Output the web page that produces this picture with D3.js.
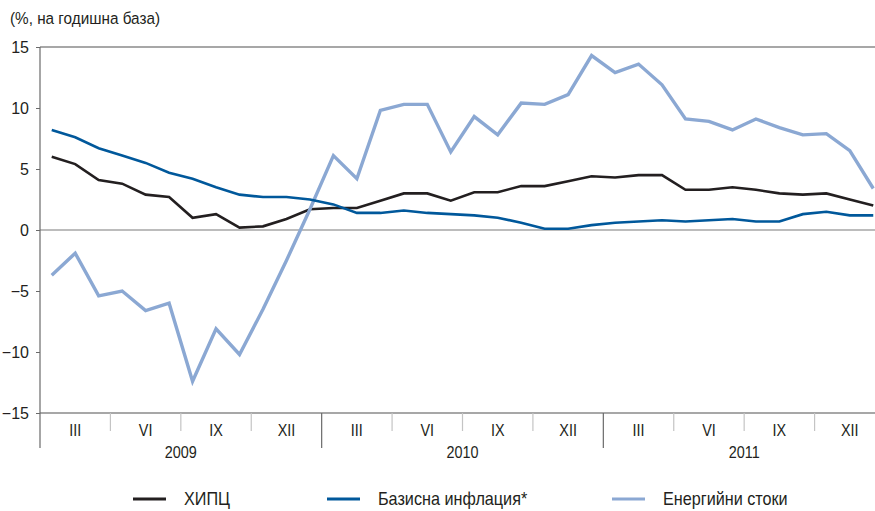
<!DOCTYPE html>
<html>
<head>
<meta charset="utf-8">
<script src="https://cdn.jsdelivr.net/npm/d3@7"></script>
<style>
  body { margin: 0; background: #fff; }
  svg text { font-family: "Liberation Sans Narrow", "Arial Narrow", "Liberation Sans", sans-serif; fill: #231f20; }
</style>
</head>
<body>
<div id="chart"></div>
<script>
// monthly values, Jan 2009 - Dec 2011
const years = ['2009', '2010', '2011']
const quarterLabels = ['III', 'VI', 'IX', 'XII']
const yTicks = [-15, -10, -5, 0, 5, 10, 15]

const hicp = [6.0, 5.4, 4.1, 3.8, 2.9, 2.7, 1.0, 1.3, 0.2, 0.3, 0.9, 1.7,
              1.8, 1.8, 2.4, 3.0, 3.0, 2.4, 3.1, 3.1, 3.6, 3.6, 4.0, 4.4,
              4.3, 4.5, 4.5, 3.3, 3.3, 3.5, 3.3, 3.0, 2.9, 3.0, 2.5, 2.0]
const core = [8.2, 7.6, 6.7, 6.1, 5.5, 4.7, 4.2, 3.5, 2.9, 2.7, 2.7, 2.5,
              2.1, 1.4, 1.4, 1.6, 1.4, 1.3, 1.2, 1.0, 0.6, 0.1, 0.1, 0.4,
              0.6, 0.7, 0.8, 0.7, 0.8, 0.9, 0.7, 0.7, 1.3, 1.5, 1.2, 1.2]
const energy = [-3.7, -1.9, -5.4, -5.0, -6.6, -6.0, -12.4, -8.1, -10.2, -6.5, -2.5, 1.7,
                6.1, 4.2, 9.8, 10.3, 10.3, 6.4, 9.3, 7.8, 10.4, 10.3, 11.1, 14.3,
                12.9, 13.6, 11.9, 9.1, 8.9, 8.2, 9.1, 8.4, 7.8, 7.9, 6.5, 3.4]

const seriesNames = ['ХИПЦ', 'Базисна инфлация*', 'Енергийни стоки']
const seriesColors = ['#231f20', '#00589b', '#8ba8d3']
const seriesWidths = [2.6, 2.6, 3.4]

const width = 875
const height = 511
const padding = { top: 47, bottom: 98, left: 40, right: -10 }

const svg = d3.select('#chart').append('svg')
  .attr('width', width)
  .attr('height', height)

const months = d3.range(36)
const x = d3.scaleBand().domain(months).range([padding.left, width - padding.right])
const y = d3.scaleLinear().domain([-15, 15]).range([height - padding.bottom, padding.top])
const bw = x.bandwidth()
const xc = i => x(i) + bw / 2

// narrow look for the text (no condensed font installed)
const squeeze = 0.9

// frame lines
svg.append('line')
  .attr('x1', padding.left).attr('x2', width)
  .attr('y1', y(15)).attr('y2', y(15))
  .attr('stroke', '#8a8a8a').attr('stroke-width', 1.5)
svg.append('line')
  .attr('x1', padding.left).attr('x2', width)
  .attr('y1', y(0)).attr('y2', y(0))
  .attr('stroke', '#7a7a7a').attr('stroke-width', 1.2)
svg.append('line')
  .attr('x1', padding.left).attr('x2', width)
  .attr('y1', y(-15)).attr('y2', y(-15))
  .attr('stroke', '#8a8a8a').attr('stroke-width', 1.5)

// y axis
const yAxis = svg.append('g')
  .attr('transform', `translate(${padding.left},0)`)
  .call(d3.axisLeft(y).tickValues(yTicks).tickSize(4).tickPadding(7))
yAxis.select('.domain').remove()
yAxis.selectAll('.tick line').attr('stroke', '#6a6a6a')
yAxis.selectAll('.tick text').attr('font-size', 16)
svg.append('line')
  .attr('x1', padding.left).attr('x2', padding.left)
  .attr('y1', y(15)).attr('y2', y(-15) + 35)
  .attr('stroke', '#6a6a6a').attr('stroke-width', 1.2)

// x axis: quarter dividers, year dividers and labels
const axisY = y(-15)
months.filter(i => i % 3 === 0 && i % 12 !== 0).forEach(i => {
  svg.append('line')
    .attr('x1', x(i)).attr('x2', x(i))
    .attr('y1', axisY).attr('y2', axisY + 18)
    .attr('stroke', '#c4c4c4').attr('stroke-width', 1.2)
})
years.forEach((yr, k) => {
  if (k > 0) {
    svg.append('line')
      .attr('x1', x(k * 12)).attr('x2', x(k * 12))
      .attr('y1', axisY).attr('y2', axisY + 35)
      .attr('stroke', '#6a6a6a').attr('stroke-width', 1.2)
  }
  quarterLabels.forEach((q, j) => {
    const m = k * 12 + j * 3
    svg.append('text')
      .attr('transform', `translate(${x(m) + bw * 1.5},${axisY + 23}) scale(${squeeze},1)`)
      .attr('text-anchor', 'middle')
      .attr('font-size', 16)
      .text(q)
  })
  svg.append('text')
    .attr('transform', `translate(${x(k * 12) + bw * 6},${axisY + 45}) scale(${squeeze},1)`)
    .attr('text-anchor', 'middle')
    .attr('font-size', 16)
    .text(yr)
})

// series lines
const line = d3.line().x((d, i) => xc(i)).y(d => y(d))
const allSeries = [hicp, core, energy]
const drawOrder = [0, 2, 1]
drawOrder.forEach(s => {
  svg.append('path')
    .datum(allSeries[s])
    .attr('d', line)
    .attr('fill', 'none')
    .attr('stroke', seriesColors[s])
    .attr('stroke-width', seriesWidths[s])
    .attr('stroke-linejoin', 'miter')
})

// title
svg.append('text')
  .attr('transform', `translate(10,24) scale(${squeeze},1)`)
  .attr('font-size', 17)
  .text('(%, на годишна база)')

// legend
const legendX = [133, 327, 612]
seriesNames.forEach((name, i) => {
  const g = svg.append('g').attr('transform', `translate(${legendX[i]},499)`)
  g.append('line')
    .attr('x1', 0).attr('x2', 33)
    .attr('y1', 0).attr('y2', 0)
    .attr('stroke', seriesColors[i]).attr('stroke-width', 3)
  g.append('text')
    .attr('transform', `translate(51,6) scale(${squeeze},1)`)
    .attr('font-size', 18)
    .text(name)
})
</script>
</body>
</html>
